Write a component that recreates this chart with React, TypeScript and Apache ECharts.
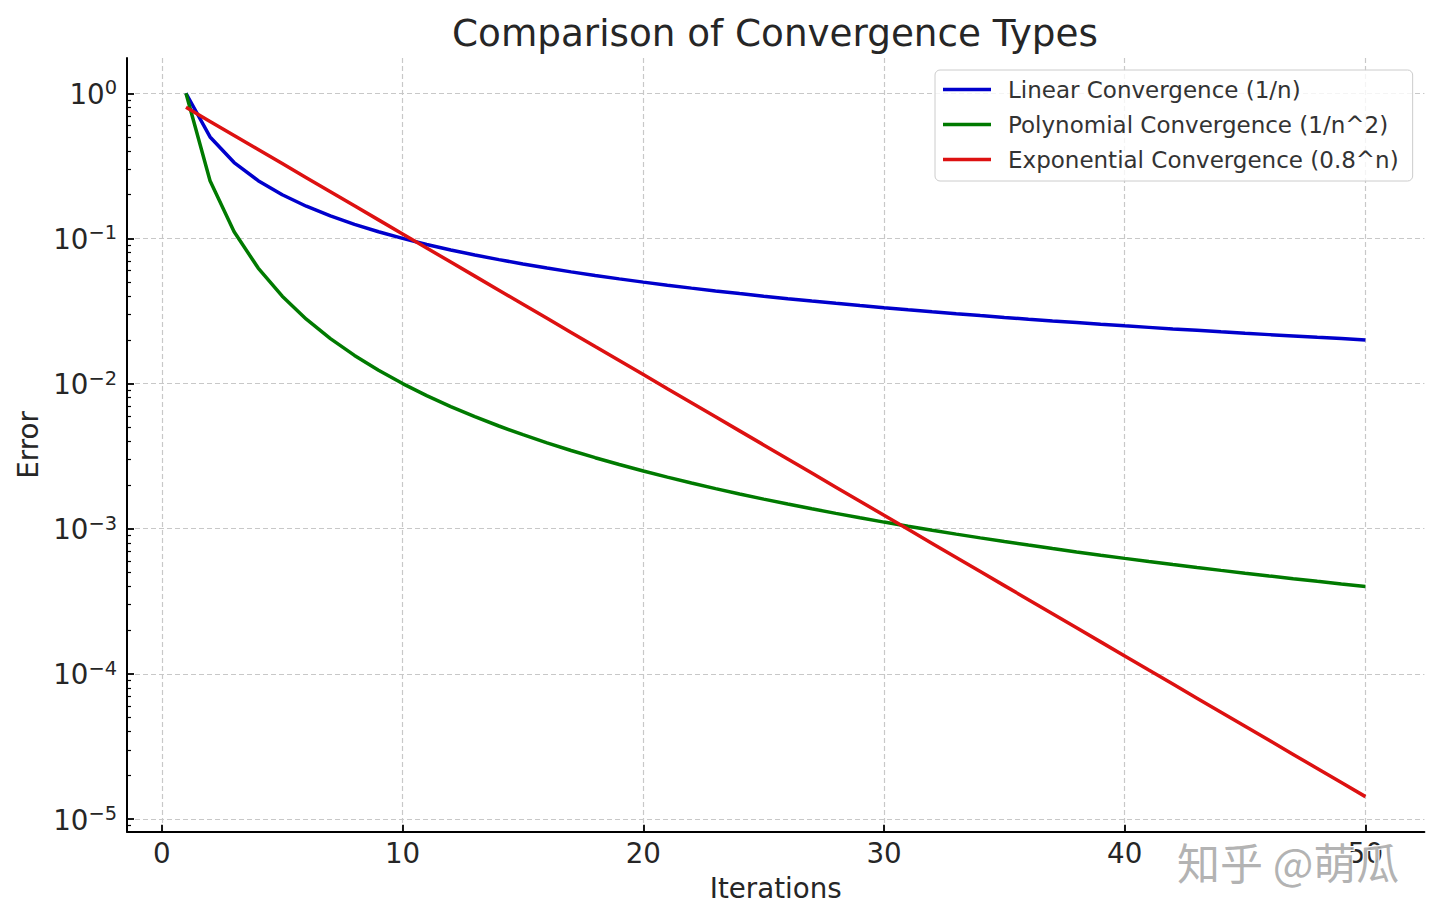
import React, { useEffect, useRef } from "react";
import * as echarts from "echarts";

const iterations = [
  1, 2, 3, 4, 5, 6, 7, 8, 9, 10, 11, 12, 13, 14, 15, 16, 17, 18, 19, 20,
  21, 22, 23, 24, 25, 26, 27, 28, 29, 30, 31, 32, 33, 34, 35, 36, 37, 38, 39, 40,
  41, 42, 43, 44, 45, 46, 47, 48, 49, 50,
];

const linearValues = [
  1, 0.5, 0.3333, 0.25, 0.2, 0.1667, 0.1429, 0.125, 0.1111, 0.1,
  0.09091, 0.08333, 0.07692, 0.07143, 0.06667, 0.0625, 0.05882, 0.05556, 0.05263, 0.05,
  0.04762, 0.04545, 0.04348, 0.04167, 0.04, 0.03846, 0.03704, 0.03571, 0.03448, 0.03333,
  0.03226, 0.03125, 0.0303, 0.02941, 0.02857, 0.02778, 0.02703, 0.02632, 0.02564, 0.025,
  0.02439, 0.02381, 0.02326, 0.02273, 0.02222, 0.02174, 0.02128, 0.02083, 0.02041, 0.02,
];

const polynomialValues = [
  1, 0.25, 0.1111, 0.0625, 0.04, 0.02778, 0.02041, 0.01563, 0.01235, 0.01,
  0.008264, 0.006944, 0.005917, 0.005102, 0.004444, 0.003906, 0.00346, 0.003086, 0.00277, 0.0025,
  0.002268, 0.002066, 0.00189, 0.001736, 0.0016, 0.001479, 0.001372, 0.001276, 0.001189, 0.001111,
  0.001041, 0.0009766, 0.0009183, 0.0008651, 0.0008163, 0.0007716, 0.0007305, 0.0006925, 0.0006575, 0.000625,
  0.0005949, 0.0005669, 0.0005408, 0.0005165, 0.0004938, 0.0004726, 0.0004527, 0.000434, 0.0004165, 0.0004,
];

const exponentialValues = [
  0.8, 0.64, 0.512, 0.4096, 0.3277, 0.2621, 0.2097, 0.1678, 0.1342, 0.1074,
  0.0859, 0.06872, 0.05498, 0.04398, 0.03518, 0.02815, 0.02252, 0.01801, 0.01441, 0.01153,
  0.009223, 0.007379, 0.005903, 0.004722, 0.003778, 0.003022, 0.002418, 0.001934, 0.001547, 0.001238,
  0.0009904, 0.0007923, 0.0006338, 0.0005071, 0.0004056, 0.0003245, 0.0002596, 0.0002077, 0.0001662, 0.0001329,
  0.0001063, 0.00008507, 0.00006806, 0.00005445, 0.00004356, 0.00003485, 0.00002788, 0.0000223, 0.00001784, 0.00001427,
];

const seriesNames = [
  "Linear Convergence (1/n)",
  "Polynomial Convergence (1/n^2)",
  "Exponential Convergence (0.8^n)",
];
const seriesColors = ["#0000cc", "#007a00", "#dd1111"];

const xTickValues = [0, 10, 20, 30, 40, 50];
const yTickExponents = [-5, -4, -3, -2, -1, 0];

const FONT = "DejaVu Sans";
const TEXT = "#262626";

export default function App() {
  const ref = useRef<HTMLDivElement>(null);

  useEffect(() => {
    const chart = echarts.init(ref.current!, null, { renderer: "svg" });

    const toPairs = (vals: number[]) => vals.map((v, i) => [iterations[i], Math.log10(v)]);
    const all = [...linearValues, ...polynomialValues, ...exponentialValues];
    const logLo = Math.log10(Math.min(...all));
    const logHi = Math.log10(Math.max(...all));
    const yMin = logLo - 0.05 * (logHi - logLo);
    const yMax = logHi + 0.05 * (logHi - logLo);
    const xLo = iterations[0];
    const xHi = iterations[iterations.length - 1];
    const xMin = xLo - 0.05 * (xHi - xLo);
    const xMax = xHi + 0.05 * (xHi - xLo);

    const minorTicks: number[] = [];
    for (let e = -6; e <= 1; e++) {
      for (let k = 2; k <= 9; k++) {
        const v = e + Math.log10(k);
        if (v > yMin && v < yMax) minorTicks.push(v);
      }
    }

    const sup = (e: number) => (e < 0 ? "\u2212" + -e : String(e));

    chart.setOption({
      animation: false,
      backgroundColor: "#ffffff",
      textStyle: { fontFamily: FONT },
      title: {
        text: "Comparison of Convergence Types",
        left: 770,
        top: 9,
        textAlign: "center",
        textStyle: { fontFamily: FONT, fontSize: 37.3, fontWeight: "normal", color: TEXT },
      },
      grid: {
        left: 127,
        right: 15.6,
        top: 58.1,
        bottom: 89.2,
        containLabel: false,
        outerBoundsMode: "none",
      },
      legend: {
        orient: "vertical",
        left: 935,
        top: 70,
        padding: [8, 14, 10, 8],
        itemGap: 12,
        itemWidth: 48,
        itemHeight: 3.4,
        icon: "rect",
        backgroundColor: "rgba(255,255,255,0.8)",
        borderColor: "#cccccc",
        borderWidth: 1,
        borderRadius: 5,
        textStyle: { fontFamily: FONT, fontSize: 23, color: "#333333", padding: [0, 0, 0, 12], lineHeight: 23 },
        data: seriesNames,
      },
      xAxis: {
        type: "value",
        min: xMin,
        max: xMax,
        name: "Iterations",
        nameLocation: "middle",
        nameGap: 43,
        nameTextStyle: { fontFamily: FONT, fontSize: 27.7, color: TEXT },
        axisLine: { show: true, onZero: false, lineStyle: { color: "#000", width: 2 } },
        axisTick: {
          show: true,
          inside: true,
          length: 7,
          lineStyle: { color: "#000", width: 1.8 },
          customValues: xTickValues,
        },
        axisLabel: {
          show: true,
          margin: 8,
          fontFamily: FONT,
          fontSize: 27.7,
          color: TEXT,
          customValues: xTickValues,
          showMinLabel: true,
          showMaxLabel: true,
        },
        splitLine: {
          show: true,
          lineStyle: { color: "#c8c8c8", width: 1.2, type: [5, 3] },
        },
        minorTick: { show: false },
      },
      yAxis: [
        {
          type: "value",
          min: yMin,
          max: yMax,
          name: "Error",
          nameLocation: "middle",
          nameGap: 82,
          nameRotate: 90,
          nameTextStyle: { fontFamily: FONT, fontSize: 27.7, color: TEXT },
          axisLine: { show: true, onZero: false, lineStyle: { color: "#000", width: 2 } },
          axisTick: {
            show: true,
            inside: true,
            length: 7,
            lineStyle: { color: "#000", width: 1.8 },
            customValues: yTickExponents,
          },
          axisLabel: {
            show: true,
            margin: 10,
            customValues: yTickExponents,
            formatter: (v: number) => `{b|10}{s|${sup(Math.round(v))}}`,
            rich: {
              b: { fontFamily: FONT, fontSize: 27.7, color: TEXT, lineHeight: 30, verticalAlign: "bottom" },
              s: { fontFamily: FONT, fontSize: 19.4, color: TEXT, lineHeight: 16, verticalAlign: "top" },
            },
          },
          splitLine: {
            show: true,
            lineStyle: { color: "#c8c8c8", width: 1.2, type: [5, 3] },
          },
        },
        {
          type: "value",
          min: yMin,
          max: yMax,
          position: "left",
          offset: 0,
          axisLine: { show: false, onZero: false },
          axisTick: {
            show: true,
            inside: true,
            length: 4,
            lineStyle: { color: "#000", width: 1.2 },
            customValues: minorTicks,
          },
          axisLabel: { show: false },
          splitLine: { show: false },
        },
      ],
      series: [linearValues, polynomialValues, exponentialValues].map((vals, i) => ({
        type: "line",
        name: seriesNames[i],
        data: toPairs(vals),
        xAxisIndex: 0,
        yAxisIndex: 0,
        symbol: "none",
        showSymbol: false,
        lineStyle: { width: 3.5, color: seriesColors[i] },
        itemStyle: { color: seriesColors[i] },
        emphasis: { disabled: true },
      })),
      graphic: [
        {
          type: "text",
          left: 1176,
          top: 838,
          z: 100,
          style: {
            text: "知乎 @萌瓜",
            fontFamily: "Noto Sans CJK SC",
            fontSize: 43,
            fill: "rgba(165,165,165,0.85)",
            stroke: "#ffffff",
            lineWidth: 2,
          },
        },
      ],
    });

    return () => chart.dispose();
  }, []);

  return (
    <div
      ref={ref}
      style={{ position: "fixed", left: 0, top: 0, width: 1440, height: 921 }}
    />
  );
}
